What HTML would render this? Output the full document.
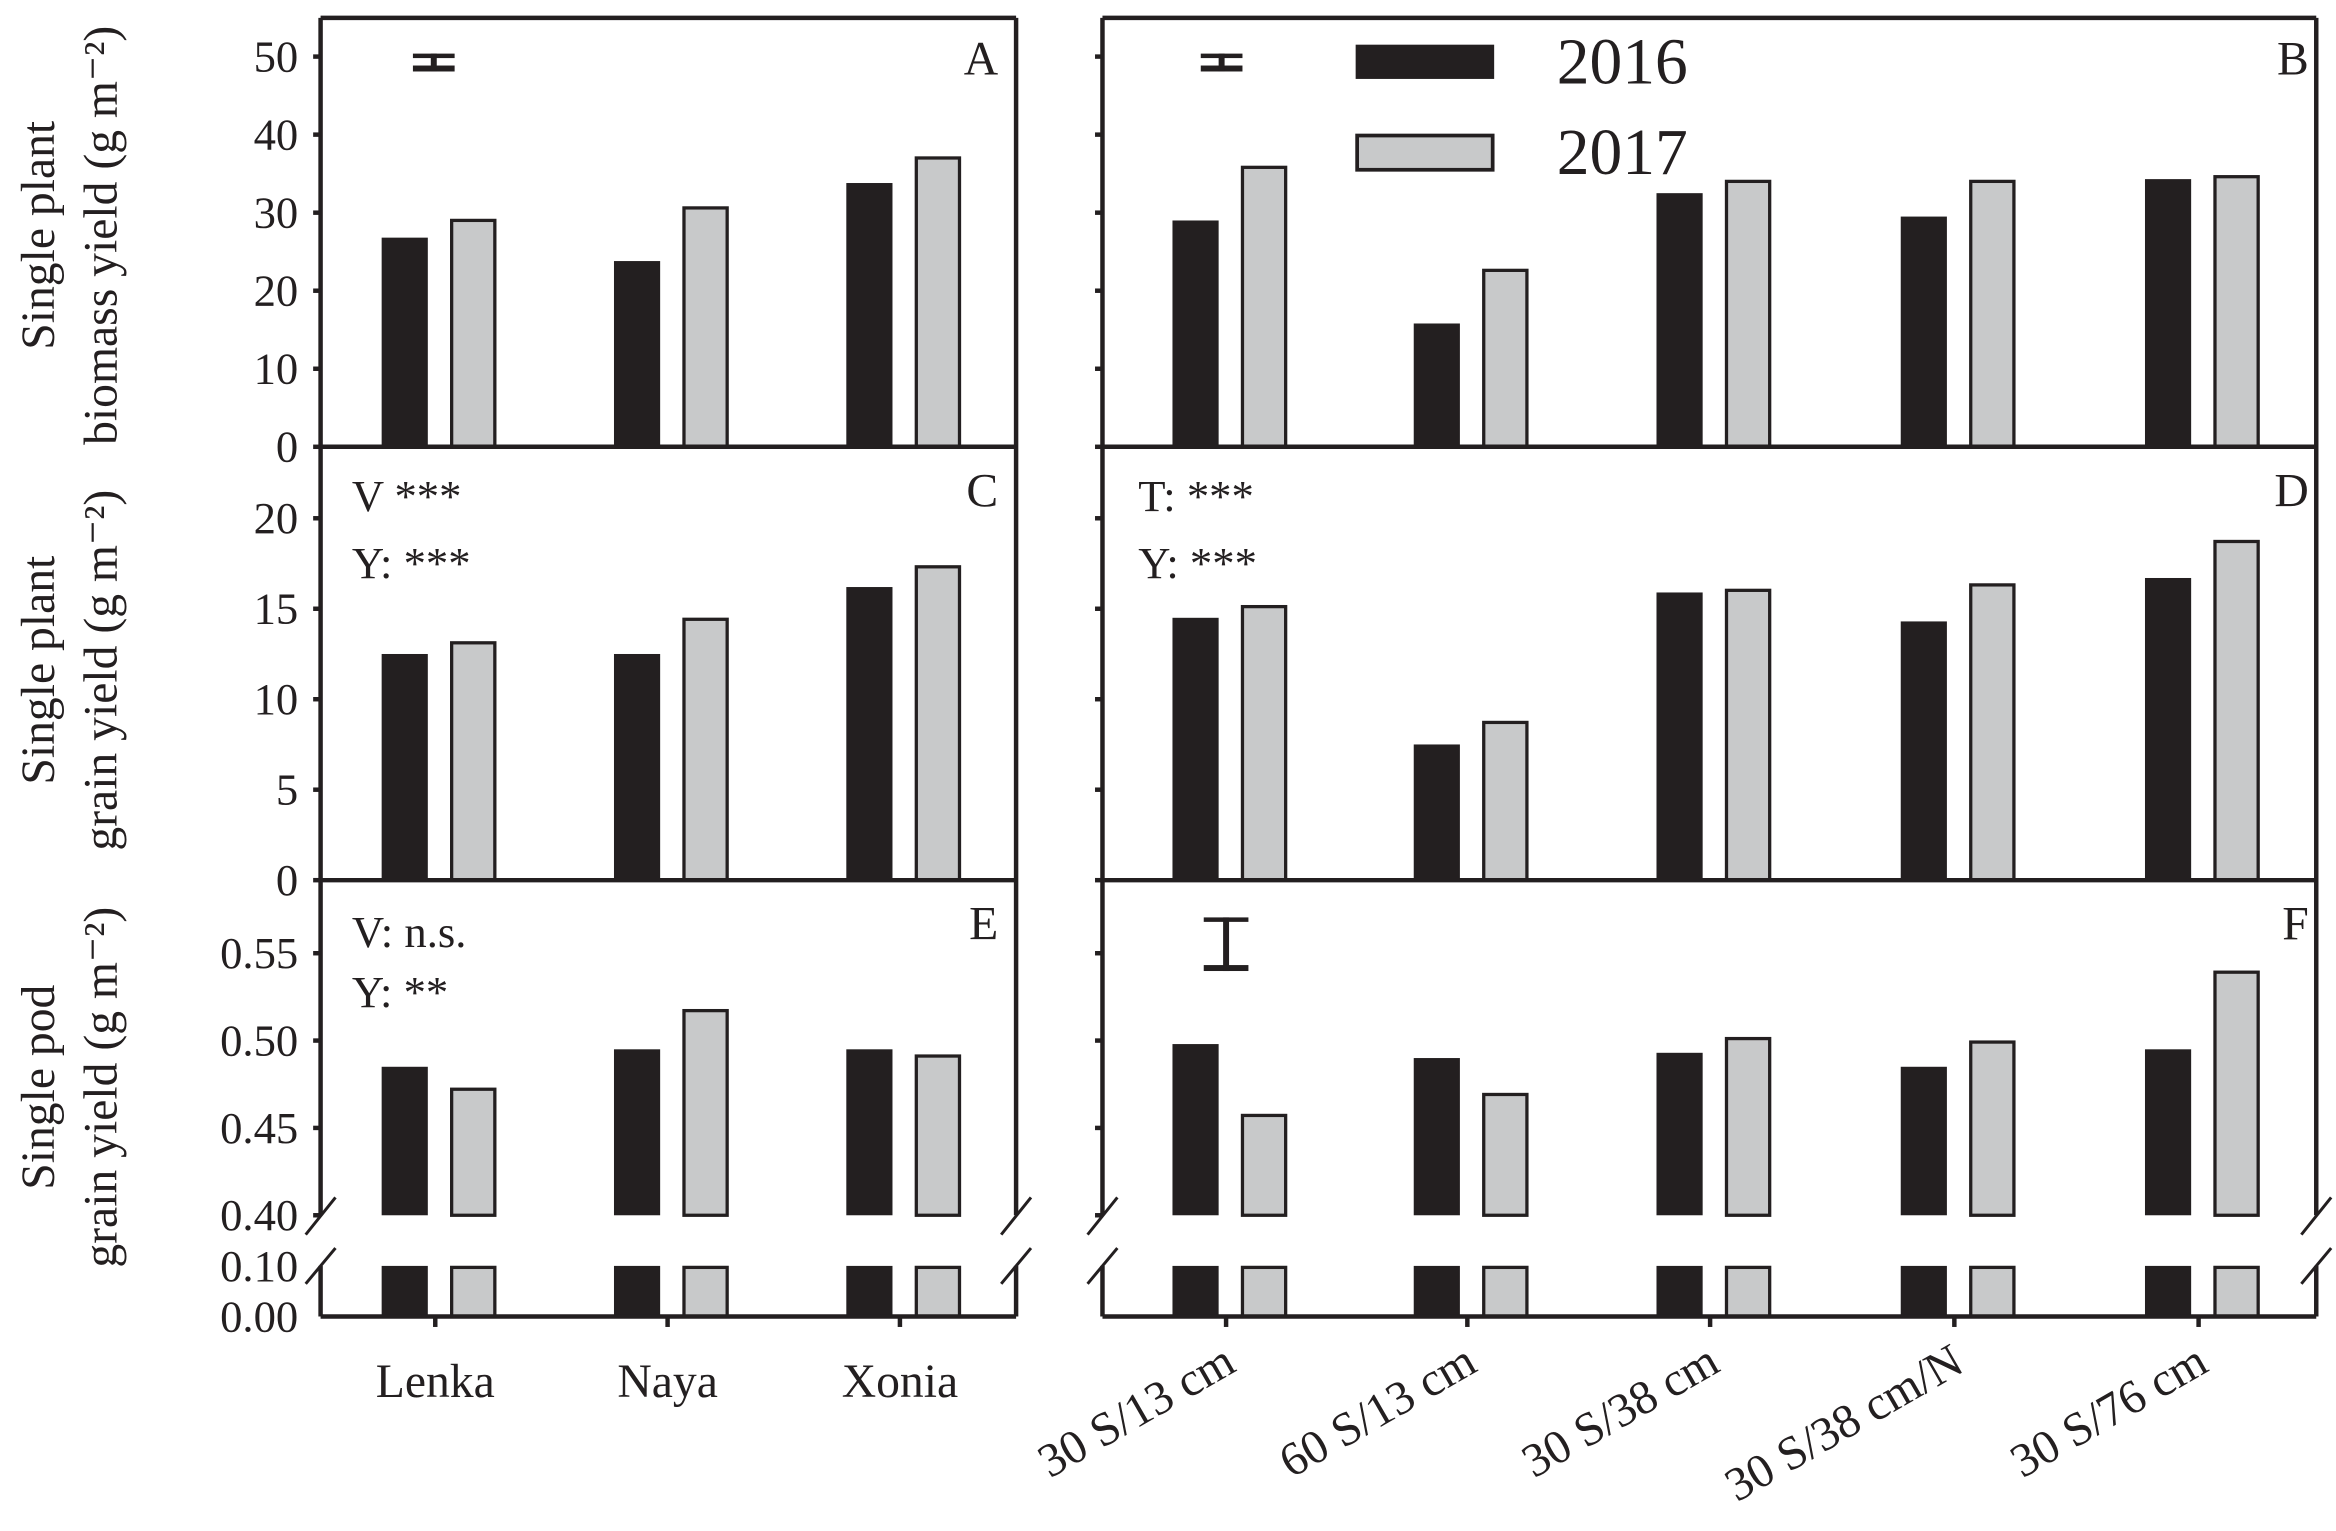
<!DOCTYPE html>
<html><head><meta charset="utf-8"><style>
html,body{margin:0;padding:0;background:#fff}
svg{display:block}
text{font-family:"Liberation Serif",serif;fill:#231f20}
</style></head><body>
<svg id="chart" width="2336" height="1531" viewBox="0 0 1568 1028" xmlns="http://www.w3.org/2000/svg">
<g id="g"></g>
</svg>
<script>
const varieties = ["Lenka","Naya","Xonia"];
const treatments = ["30 S/13 cm","60 S/13 cm","30 S/38 cm","30 S/38 cm/N","30 S/76 cm"];
const years = ["2016","2017"];
const biomassVar16 = [26.8,23.8,33.8];
const biomassVar17 = [29.2,30.8,37.2];
const biomassTrt16 = [29.0,15.8,32.5,29.5,34.3];
const biomassTrt17 = [36.0,22.8,34.2,34.2,34.8];
const grainVar16 = [12.5,12.5,16.2];
const grainVar17 = [13.2,14.5,17.4];
const grainTrt16 = [14.5,7.5,15.9,14.3,16.7];
const grainTrt17 = [15.2,8.8,16.1,16.4,18.8];
const podVar16 = [0.485,0.495,0.495];
const podVar17 = [0.473,0.518,0.492];
const podTrt16 = [0.498,0.490,0.493,0.485,0.495];
const podTrt17 = [0.458,0.470,0.502,0.500,0.540];
const ticksA = [0,10,20,30,40,50];
const ticksC = [0,5,10,15,20];
const ticksE = [0.40,0.45,0.50,0.55];

const NS="http://www.w3.org/2000/svg";
const G=document.getElementById('g');
function mk(tag,attrs,name,parent){const e=document.createElementNS(NS,tag);for(const k in attrs)e.setAttribute(k,attrs[k]);


(parent||G).appendChild(e);return e;}
function txt(x,y,s,size,name,extra){const t=mk('text',Object.assign({x:x,y:y,'font-size':size},extra||{}),name);t.textContent=s;return t;}

const BLACK="#231f20", GRAY="#c8c9ca";
const L={x0:215,x1:682}, R={x0:740,x1:1555};
const yA=v=>300-v*5.24;
const yC=v=>591-v*12.15;
const yE=v=>816-(v-0.40)*1173;
const leftCenters=[292,448,604];
const rightCenters=[823,985,1148,1312,1476];
const bw=31;

function bars(centers,v16,v17,yf,base,name){
  centers.forEach((c,i)=>{
    mk('rect',{x:c-36,y:yf(v16[i]),width:bw,height:base-yf(v16[i]),fill:BLACK},name+'-2016-bar-'+i);
    mk('rect',{x:c+11,y:yf(v17[i])+1,width:bw-2,height:base-yf(v17[i])-1,fill:GRAY,stroke:BLACK,'stroke-width':2.2},name+'-2017-bar-'+i);
  });
}
function brokenBars(centers,v16,v17,name){
  bars(centers,v16,v17,yE,816,name);
  centers.forEach((c,i)=>{
    mk('rect',{x:c-36,y:850,width:bw,height:34,fill:BLACK},name+'-2016-lower-'+i);
    mk('rect',{x:c+11,y:851,width:bw-2,height:33,fill:GRAY,stroke:BLACK,'stroke-width':2.2},name+'-2017-lower-'+i);
  });
}

bars(leftCenters,biomassVar16,biomassVar17,yA,300,'biomass-variety');
bars(rightCenters,biomassTrt16,biomassTrt17,yA,300,'biomass-treatment');
bars(leftCenters,grainVar16,grainVar17,yC,591,'grain-variety');
bars(rightCenters,grainTrt16,grainTrt17,yC,591,'grain-treatment');
brokenBars(leftCenters,podVar16,podVar17,'pod-variety');
brokenBars(rightCenters,podTrt16,podTrt17,'pod-treatment');

const sw=3;
function line(x1,y1,x2,y2,name,w){return mk('line',{x1:x1,y1:y1,x2:x2,y2:y2,stroke:BLACK,'stroke-width':w||sw},name);}
[L,R].forEach((P,pi)=>{
  const side=pi?'right':'left';
  line(P.x0,12,P.x1,12,side+'-top-border');
  line(P.x0,12,P.x0,816,side+'-y-axis');
  line(P.x1,12,P.x1,816,side+'-right-border');
  line(P.x0,850,P.x0,884,side+'-y-axis-lower');
  line(P.x1,850,P.x1,884,side+'-right-border-lower');
  line(P.x0,300,P.x1,300,side+'-divider-1');
  line(P.x0,591,P.x1,591,side+'-divider-2');
  line(P.x0,884,P.x1,884,side+'-x-axis');
  [P.x0,P.x1].forEach((x,k)=>{
    line(x-10,829,x+10,804,side+'-break-upper-'+k,2);
    line(x-10,862,x+10,838,side+'-break-lower-'+k,2);
  });
});
function yticks(ticks,yf,lab,name){
  ticks.forEach(t=>{
    const y=yf(t);
    line(L.x0-5,y,L.x0,y,name+'-tick-left');
    line(R.x0-5,y,R.x0,y,name+'-tick-right');
    txt(200,y+10,lab(t),30,name+'-tick-label',{'text-anchor':'end'});
  });
}
yticks(ticksA,yA,t=>String(t),'biomass');
yticks(ticksC,yC,t=>String(t),'grain');
yticks(ticksE,yE,t=>t.toFixed(2),'pod');
txt(200,860,"0.10",30,'pod-tick-label',{'text-anchor':'end'});
txt(200,894,"0.00",30,'pod-tick-label',{'text-anchor':'end'});
leftCenters.forEach((c,i)=>{line(c,884,c,891,'x-tick');txt(c,938,varieties[i],32,'variety-label',{'text-anchor':'middle'});});
rightCenters.forEach((c,i)=>{line(c,884,c,891,'x-tick');txt(c+8,920,treatments[i],32,'treatment-label',{'text-anchor':'end',transform:'rotate(-30 '+(c+8)+' 920)'});});
</script>
<script>
(function(){
const NS="http://www.w3.org/2000/svg";const G=document.getElementById('g');
function t(x,y,s,size,name,extra){const e=document.createElementNS(NS,'text');e.setAttribute('x',x);e.setAttribute('y',y);e.setAttribute('font-size',size);
for(const k in (extra||{}))e.setAttribute(k,extra[k]);


e.textContent=s;G.appendChild(e);return e;}
function r(x,y,w,h,f,name,s){const e=document.createElementNS(NS,'rect');e.setAttribute('x',x);e.setAttribute('y',y);e.setAttribute('width',w);e.setAttribute('height',h);e.setAttribute('fill',f);if(s){e.setAttribute('stroke','#231f20');e.setAttribute('stroke-width',2.5);}


G.appendChild(e);}
t(670,50,"A",32,'panel-label-a',{'text-anchor':'end'});
t(1550,50,"B",32,'panel-label-b',{'text-anchor':'end'});
t(670,340,"C",32,'panel-label-c',{'text-anchor':'end'});
t(1550,340,"D",32,'panel-label-d',{'text-anchor':'end'});
t(670,631,"E",32,'panel-label-e',{'text-anchor':'end'});
t(1550,631,"F",32,'panel-label-f',{'text-anchor':'end'});
t(236,343,"V ***",30,'stat-v'); t(236,388,"Y: ***",30,'stat-y');
t(764,343,"T: ***",30,'stat-t'); t(764,388,"Y: ***",30,'stat-y-d');
t(236,636,"V: n.s.",30,'stat-v-e'); t(236,676,"Y: **",30,'stat-y-e');
r(277,36,28,3,'#231f20','errorbar-a-top');r(277,44,28,4,'#231f20','errorbar-a-bottom');r(289,36,4,12,'#231f20','errorbar-a-stem');
r(806,36,28,3,'#231f20','errorbar-b-top');r(806,44,28,4,'#231f20','errorbar-b-bottom');r(818,36,4,12,'#231f20','errorbar-b-stem');
r(808,616,30,3,'#231f20','errorbar-f-top');r(808,648,30,4,'#231f20','errorbar-f-bottom');r(821,616,4,36,'#231f20','errorbar-f-stem');
r(910,30,93,23,'#231f20','legend-swatch-2016');
r(911,91,91,23,'#c8c9ca','legend-swatch-2017',true);
t(1045,56,"2016",44,'legend-label-2016');
t(1045,117,"2017",44,'legend-label-2017');
t(0,0,"Single plant",32,'y-title-biomass-1',{'text-anchor':'middle',transform:'translate(36 158) rotate(-90)'});
t(0,0,"biomass yield (g m\u207B\u00B2)",32,'y-title-biomass-2',{'text-anchor':'middle',transform:'translate(78 158) rotate(-90)'});
t(0,0,"Single plant",32,'y-title-grain-1',{'text-anchor':'middle',transform:'translate(36 450) rotate(-90)'});
t(0,0,"grain yield (g m\u207B\u00B2)",32,'y-title-grain-2',{'text-anchor':'middle',transform:'translate(78 450) rotate(-90)'});
t(0,0,"Single pod",32,'y-title-pod-1',{'text-anchor':'middle',transform:'translate(36 730) rotate(-90)'});
t(0,0,"grain yield (g m\u207B\u00B2)",32,'y-title-pod-2',{'text-anchor':'middle',transform:'translate(78 730) rotate(-90)'});
})();
</script>
</body></html>
